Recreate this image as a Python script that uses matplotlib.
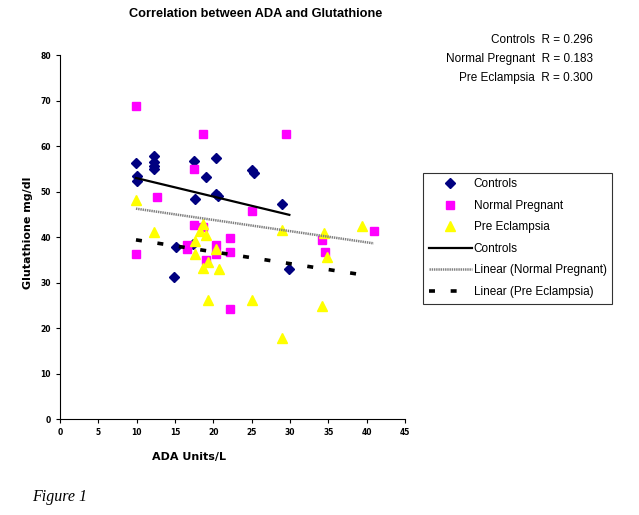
import numpy as np
import matplotlib
matplotlib.use('Agg')
import matplotlib.pyplot as plt

plt.rcParams['lines.scale_dashes'] = False

# values
ctrl_x = [9.9, 10.0, 10.0, 12.2, 12.2, 12.2, 12.2, 17.5, 17.6, 19.0, 20.4, 20.4, 20.6,
          25.0, 25.3, 28.9, 15.1, 14.8, 29.9, 17.3]
ctrl_y = [56.3, 53.5, 52.3, 57.8, 56.5, 55.7, 55.0, 56.8, 48.4, 53.3, 57.5, 49.4, 49.0,
          54.7, 54.2, 47.3, 37.9, 31.3, 33.0, 38.4]

np_x = [9.9, 18.7, 29.5, 17.5, 12.7, 25.0, 17.5, 18.7, 22.2, 40.9, 34.1, 9.9, 16.5,
        16.5, 20.4, 20.4, 19.0, 22.2, 22.2, 34.6]
np_y = [68.9, 62.6, 62.6, 55.0, 48.8, 45.8, 42.7, 42.3, 39.8, 41.3, 39.4, 36.4, 38.3,
        37.5, 38.3, 36.2, 35.0, 36.7, 24.3, 36.7]

pe_x = [9.9, 12.2, 18.7, 28.9, 34.4, 39.4, 18.2, 19.0, 17.6, 17.6, 20.4, 19.3, 18.7,
        20.7, 19.3, 25.0, 34.2, 28.9, 34.8]
pe_y = [48.2, 41.1, 43.0, 41.6, 41.0, 42.4, 41.3, 40.5, 39.2, 36.4, 37.5, 34.5, 33.3,
        32.9, 26.3, 26.3, 24.9, 17.9, 35.6]

r_labels = ['Controls  R = 0.296', 'Normal Pregnant  R = 0.183', 'Pre Eclampsia  R = 0.300']

fig = plt.figure(figsize=(6.39, 5.15), dpi=100)
ax = fig.add_axes([0.094, 0.186, 0.54, 0.707])

ax.plot(ctrl_x, ctrl_y, 'D', color='#000080', ms=5, ls='none', label='Controls')
ax.plot(np_x, np_y, 's', color='#ff00ff', ms=5.5, ls='none', label='Normal Pregnant')
ax.plot(pe_x, pe_y, '^', color='#ffff00', ms=6.5, ls='none', label='Pre Eclampsia')

# linear trend lines fitted from the data
def trend(x, y):
    k, b = np.polyfit(x, y, 1)
    xs = np.array([min(x), max(x)])
    return xs, k * xs + b

xs, ys = trend(ctrl_x, ctrl_y)
ax.plot(xs, ys, color='black', lw=1.6, label='Controls')
xs, ys = trend(np_x, np_y)
ax.plot(xs, ys, color='#808080', lw=1.8, ls=(0, (1, 0.6)), label='Linear (Normal Pregnant)')
xs, ys = trend(pe_x, pe_y)
ax.plot(xs, ys, color='black', lw=2.6, ls=(0, (4.3, 11.3)), label='Linear (Pre Eclampsia)')

ax.set_xlim(0, 45)
ax.set_ylim(0, 80)
ax.set_xticks(range(0, 46, 5))
ax.set_yticks(range(0, 81, 10))
ax.tick_params(labelsize=5.5, length=3, width=0.8)
for lab in ax.get_xticklabels() + ax.get_yticklabels():
    lab.set_fontweight('bold')
ax.spines['top'].set_visible(False)
ax.spines['right'].set_visible(False)

ax.set_xlabel('ADA Units/L', fontsize=8, fontweight='bold')
ax.set_ylabel('Glutathione mg/dl', fontsize=8, fontweight='bold')
ax.xaxis.set_label_coords(0.374, -0.09)
ax.yaxis.set_label_coords(-0.078, 0.513)

fig.text(0.40, 0.972, 'Correlation between ADA and Glutathione', ha='center', va='center',
         fontsize=9.2, fontweight='bold', family='Liberation Sans')

for i, t in enumerate(r_labels):
    fig.text(0.928, 0.922 - i * 0.037, t, ha='right', va='center', fontsize=8.5,
             family='Liberation Sans')

leg = fig.legend(loc='upper left', bbox_to_anchor=(0.6625, 0.665), borderaxespad=0,
                 prop={'family': 'Liberation Sans', 'size': 8.5},
                 frameon=True, fancybox=False, edgecolor='black', borderpad=0.5,
                 labelspacing=0.8, handlelength=3.6, handletextpad=0.15)
leg.get_frame().set_linewidth(0.8)

fig.text(0.05, 0.035, 'Figure 1', fontsize=11.5, style='italic', va='center',
         family='Liberation Serif')

plt.savefig('out.png', dpi=100)
